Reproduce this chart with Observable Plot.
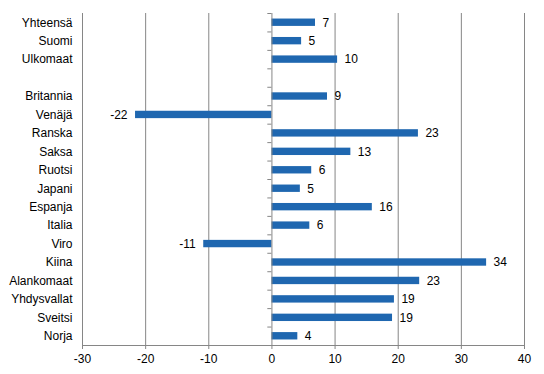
<!DOCTYPE html>
<html>
<head>
<meta charset="utf-8">
<script src="https://cdn.jsdelivr.net/npm/d3@7"></script>
<script src="https://cdn.jsdelivr.net/npm/@observablehq/plot@0.6"></script>
<style>
  html, body { margin: 0; padding: 0; background: #fff; }
  #chart svg { display: block; font-family: "Liberation Sans", Arial, sans-serif; }
</style>
</head>
<body>
<div id="chart"></div>
<script>
// Categories top to bottom ("" is the empty gap row)
const categories = ["Yhteensä", "Suomi", "Ulkomaat", "", "Britannia", "Venäjä", "Ranska", "Saksa", "Ruotsi", "Japani", "Espanja", "Italia", "Viro", "Kiina", "Alankomaat", "Yhdysvallat", "Sveitsi", "Norja"];
const names  = ["Yhteensä", "Suomi", "Ulkomaat", "Britannia", "Venäjä", "Ranska", "Saksa", "Ruotsi", "Japani", "Espanja", "Italia", "Viro", "Kiina", "Alankomaat", "Yhdysvallat", "Sveitsi", "Norja"];
const values = [6.9, 4.7, 10.4, 8.8, -21.6, 23.2, 12.5, 6.3, 4.5, 15.9, 6.0, -10.8, 34.0, 23.4, 19.4, 19.1, 4.1];
const labels = ["7", "5", "10", "9", "-22", "23", "13", "6", "5", "16", "6", "-11", "34", "23", "19", "19", "4"];
const xTicks = [-30, -20, -10, 0, 10, 20, 30, 40];

const data = names.map((n, i) => ({name: n, value: values[i], label: labels[i]}));

const W = 544, H = 374, mT = 13, mB = 29, mL = 82, mR = 20;
const step = (H - mT - mB) / categories.length;
const blue = "#1f67b0";
const grid = "#868686";

const chart = Plot.plot({
  width: W, height: H,
  marginTop: mT, marginBottom: mB, marginLeft: mL, marginRight: mR,
  style: {fontFamily: "Liberation Sans, Arial, sans-serif", fontSize: "12px", color: "#000"},
  x: {domain: [-30, 40], ticks: xTicks, label: null, round: false},
  y: {domain: categories, paddingInner: 0.6, paddingOuter: 0.3, label: null, round: false},
  marks: [
    Plot.ruleX(xTicks.filter(d => d !== 0), {stroke: grid, strokeWidth: 1}),
    Plot.barX(data, {x: "value", y: "name", fill: blue}),
    Plot.ruleX([0], {stroke: grid, strokeWidth: 1}),
    Plot.ruleY(categories, {y: d => d, x1: -0.65, x2: 0, dy: -step / 2, stroke: grid}),
    Plot.frame({anchor: "bottom", stroke: grid}),
    Plot.axisX({ticks: xTicks, tickSize: 4, tickPadding: 5, stroke: grid, fill: "#000", fontSize: 12, label: null, tickFormat: d => String(d)}),
    Plot.axisY({tickSize: 0, tickPadding: 10, fill: "#000", fontSize: 12, label: null}),
    Plot.text(data.filter(d => d.value >= 0), {x: "value", y: "name", text: "label", textAnchor: "start", dx: 7, fill: "#000", fontSize: 12}),
    Plot.text(data.filter(d => d.value < 0), {x: "value", y: "name", text: "label", textAnchor: "end", dx: -8, fill: "#000", fontSize: 12}),
  ]
});
document.getElementById("chart").appendChild(chart);
</script>
</body>
</html>
